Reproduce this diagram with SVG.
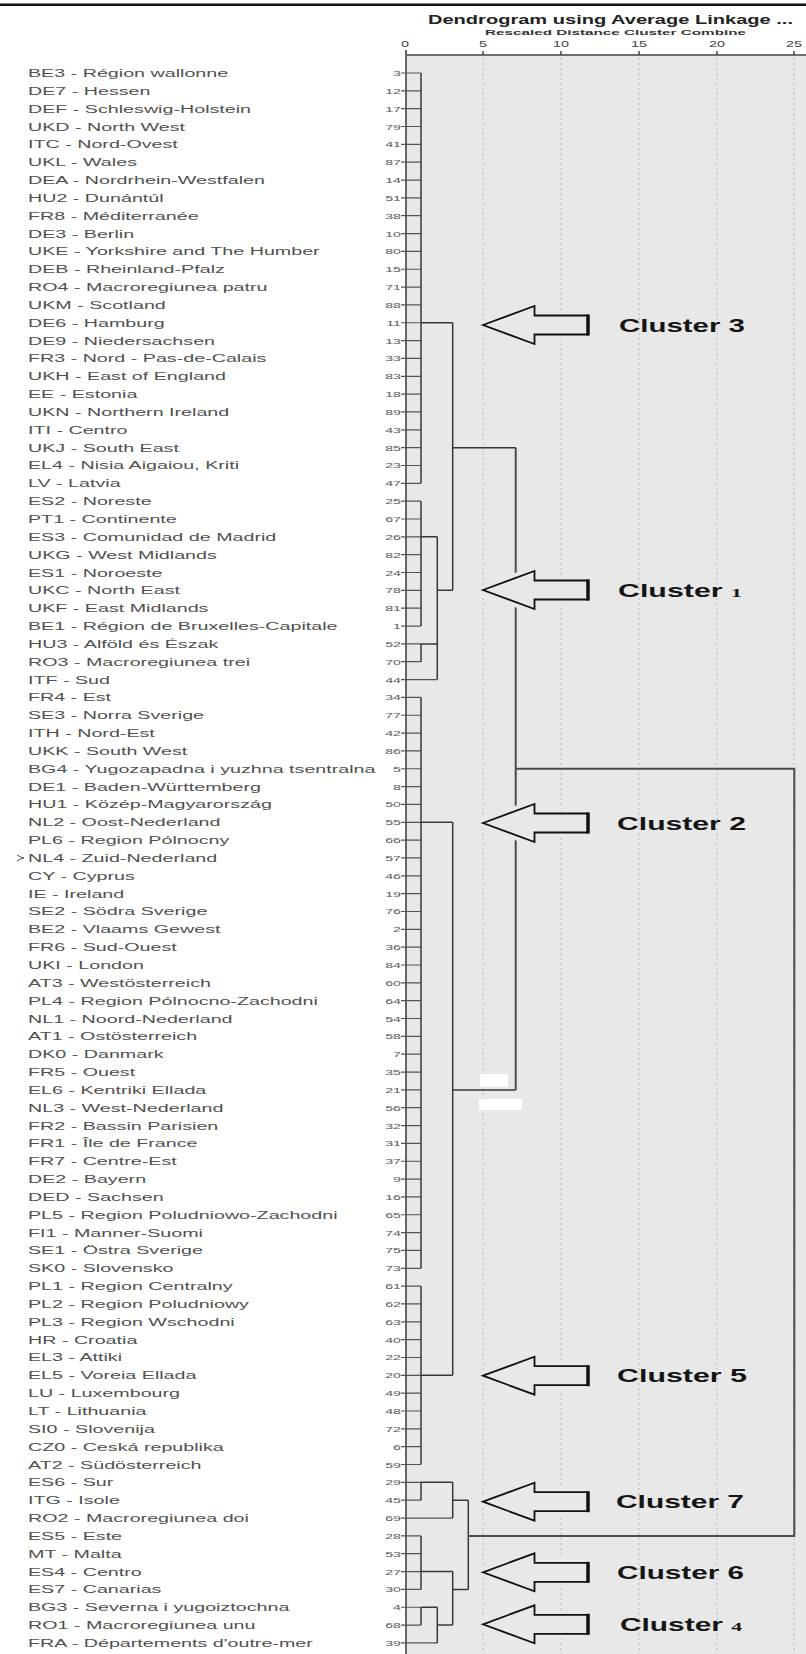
<svg xmlns="http://www.w3.org/2000/svg" xmlns:xlink="http://www.w3.org/1999/xlink" width="806" height="1654" viewBox="0 0 806 1654">
<style>
.lb{font-family:"Liberation Sans",Arial,sans-serif;font-size:11px;fill:#505050}
.nm{font-family:"Liberation Sans",Arial,sans-serif;font-size:8px;fill:#5a5a5a;text-anchor:end}
.tk{font-family:"Liberation Sans",Arial,sans-serif;font-size:9px;fill:#444;text-anchor:middle}
.cl{font-family:"Liberation Sans",Arial,sans-serif;font-size:18px;font-weight:bold;fill:#151515}
.sm{font-family:"Liberation Serif","Times New Roman",serif;font-size:13px;font-weight:bold}
.br{fill:none;stroke:#383838;stroke-width:1.5}
.bb{fill:none;stroke:#4a4a4a;stroke-width:2}
.lf{fill:none;stroke:#555;stroke-width:1.2}
.grid{stroke:#c2c2c2;stroke-width:1.3;stroke-dasharray:2 3}
.arr{fill:#e8e8e8;stroke:#111;stroke-width:1.8}
.halo{fill:#e8e8e8;stroke:#e8e8e8;stroke-width:10;stroke-linejoin:round}
</style>
<defs>
<polygon id="arrowShape" points="483,0 534.5,-19 534.5,-9.5 588,-9.5 588,9.5 534.5,9.5 534.5,19"/>
<path id="arrowEnd" d="M588,-10.5V10.5"/>
</defs>
<rect x="0" y="0" width="806" height="1654" fill="#fff"/>
<rect x="0" y="3.5" width="806" height="2.5" fill="#111"/>
<g id="chart-frame">
<rect x="405" y="55" width="401" height="1599" fill="#e8e8e8"/>
<path class="grid" d="M483,58V1654M561,58V1654M639,58V1654M717,58V1654M794,58V1654"/>
<path fill="none" stroke="#444" stroke-width="1.5" d="M405,55H806M483,51V55M561,51V55M639,51V55M717,51V55M794,51V55"/>
<path fill="none" stroke="#666" stroke-width="2" d="M406,50V1654"/>
<rect x="480" y="1074" width="28" height="13" fill="#fff"/>
<rect x="479" y="1099" width="43" height="11" fill="#fff"/>
</g>
<g id="header">
<text x="428" y="24" font-family="Liberation Sans,Arial,sans-serif" font-size="13" font-weight="bold" fill="#222" textLength="365" lengthAdjust="spacingAndGlyphs">Dendrogram using Average Linkage ...</text>
<text x="485" y="34.5" font-family="Liberation Sans,Arial,sans-serif" font-size="7.5" font-weight="bold" fill="#333" textLength="261" lengthAdjust="spacingAndGlyphs">Rescaled Distance Cluster Combine</text>
<text class="tk" transform="translate(405,47) scale(1.6,1)">0</text>
<text class="tk" transform="translate(483,47) scale(1.6,1)">5</text>
<text class="tk" transform="translate(561,47) scale(1.6,1)">10</text>
<text class="tk" transform="translate(639,47) scale(1.6,1)">15</text>
<text class="tk" transform="translate(717,47) scale(1.6,1)">20</text>
<text class="tk" transform="translate(794,47) scale(1.6,1)">25</text>
</g>
<g id="connectors">
<path class="lf" d="M401,73H421M401,90.84H421M401,108.68H421M401,126.52H421M401,144.36H421M401,162.2H421M401,180.04H421M401,197.88H421M401,215.72H421M401,233.56H421M401,251.4H421M401,269.24H421M401,287.08H421M401,304.92H421M401,322.76H421M401,340.6H421M401,358.44H421M401,376.28H421M401,394.12H421M401,411.96H421M401,429.8H421M401,447.64H421M401,465.48H421M401,483.32H421M401,501.16H421M401,519H421M401,536.84H421M401,554.68H421M401,572.52H421M401,590.36H421M401,608.2H421M401,626.04H421M401,643.88H421M401,661.72H421M401,679.56H437.3M401,697.4H421M401,715.24H421M401,733.08H421M401,750.92H421M401,768.76H421M401,786.6H421M401,804.44H421M401,822.28H421M401,840.12H421M401,857.96H421M401,875.8H421M401,893.64H421M401,911.48H421M401,929.32H421M401,947.16H421M401,965H421M401,982.84H421M401,1000.68H421M401,1018.52H421M401,1036.36H421M401,1054.2H421M401,1072.04H421M401,1089.88H421M401,1107.72H421M401,1125.56H421M401,1143.4H421M401,1161.24H421M401,1179.08H421M401,1196.92H421M401,1214.76H421M401,1232.6H421M401,1250.44H421M401,1268.28H421M401,1286.12H421M401,1303.96H421M401,1321.8H421M401,1339.64H421M401,1357.48H421M401,1375.32H421M401,1393.16H421M401,1411H421M401,1428.84H421M401,1446.68H421M401,1464.52H421M401,1482.36H421M401,1500.2H421M401,1518.04H452.7M401,1535.88H421M401,1553.72H421M401,1571.56H421M401,1589.4H421M401,1607.24H421M401,1625.08H421M401,1642.92H437.3"/>
<path class="br" d="M421,73V483.32M421,501.16V626.04M421,643.88V661.72M421,697.4V1268.28M421,1286.12V1464.52M421,1482.36V1500.2M421,1535.88V1589.4M421,1607.24V1625.08
M421,322.76H452.7M421,536.84H437.3M421,643.88H437.3M421,822.28H452.7M421,1375.32H452.7M421,1482.36H452.7M421,1571.56H452.7M421,1607.24H437.3
M437.3,536.84V679.56M437.3,1607.24V1642.92M437.3,590.36H452.7M437.3,1625.08H452.7
M452.7,322.76V590.36M452.7,822.28V1375.32M452.7,1482.36V1518.04M452.7,1571.56V1625.08
M452.7,447.64H515.7M452.7,1089.88H515.7M452.7,1500.2H468.3M452.7,1589.4H468.3
M468.3,1500.2V1589.4"/>
<path class="bb" d="M515.7,447.64V1089.88M515.7,768.76H794.3V1535.88H468.3"/>
</g>
<g id="leaves">
<g id="n-BE3" transform="translate(0,73)"><text class="lb" transform="translate(28,4) scale(1.79,1)">BE3 - Région wallonne</text><text class="nm" transform="translate(401,3) scale(1.78,1)">3</text></g>
<g id="n-DE7" transform="translate(0,90.84)"><text class="lb" transform="translate(28,4) scale(1.79,1)">DE7 - Hessen</text><text class="nm" transform="translate(401,3) scale(1.78,1)">12</text></g>
<g id="n-DEF" transform="translate(0,108.68)"><text class="lb" transform="translate(28,4) scale(1.79,1)">DEF - Schleswig-Holstein</text><text class="nm" transform="translate(401,3) scale(1.78,1)">17</text></g>
<g id="n-UKD" transform="translate(0,126.52)"><text class="lb" transform="translate(28,4) scale(1.79,1)">UKD - North West</text><text class="nm" transform="translate(401,3) scale(1.78,1)">79</text></g>
<g id="n-ITC" transform="translate(0,144.36)"><text class="lb" transform="translate(28,4) scale(1.79,1)">ITC - Nord-Ovest</text><text class="nm" transform="translate(401,3) scale(1.78,1)">41</text></g>
<g id="n-UKL" transform="translate(0,162.2)"><text class="lb" transform="translate(28,4) scale(1.79,1)">UKL - Wales</text><text class="nm" transform="translate(401,3) scale(1.78,1)">87</text></g>
<g id="n-DEA" transform="translate(0,180.04)"><text class="lb" transform="translate(28,4) scale(1.79,1)">DEA - Nordrhein-Westfalen</text><text class="nm" transform="translate(401,3) scale(1.78,1)">14</text></g>
<g id="n-HU2" transform="translate(0,197.88)"><text class="lb" transform="translate(28,4) scale(1.79,1)">HU2 - Dunántúl</text><text class="nm" transform="translate(401,3) scale(1.78,1)">51</text></g>
<g id="n-FR8" transform="translate(0,215.72)"><text class="lb" transform="translate(28,4) scale(1.79,1)">FR8 - Méditerranée</text><text class="nm" transform="translate(401,3) scale(1.78,1)">38</text></g>
<g id="n-DE3" transform="translate(0,233.56)"><text class="lb" transform="translate(28,4) scale(1.79,1)">DE3 - Berlin</text><text class="nm" transform="translate(401,3) scale(1.78,1)">10</text></g>
<g id="n-UKE" transform="translate(0,251.4)"><text class="lb" transform="translate(28,4) scale(1.79,1)">UKE - Yorkshire and The Humber</text><text class="nm" transform="translate(401,3) scale(1.78,1)">80</text></g>
<g id="n-DEB" transform="translate(0,269.24)"><text class="lb" transform="translate(28,4) scale(1.79,1)">DEB - Rheinland-Pfalz</text><text class="nm" transform="translate(401,3) scale(1.78,1)">15</text></g>
<g id="n-RO4" transform="translate(0,287.08)"><text class="lb" transform="translate(28,4) scale(1.79,1)">RO4 - Macroregiunea patru</text><text class="nm" transform="translate(401,3) scale(1.78,1)">71</text></g>
<g id="n-UKM" transform="translate(0,304.92)"><text class="lb" transform="translate(28,4) scale(1.79,1)">UKM - Scotland</text><text class="nm" transform="translate(401,3) scale(1.78,1)">88</text></g>
<g id="n-DE6" transform="translate(0,322.76)"><text class="lb" transform="translate(28,4) scale(1.79,1)">DE6 - Hamburg</text><text class="nm" transform="translate(401,3) scale(1.78,1)">11</text></g>
<g id="n-DE9" transform="translate(0,340.6)"><text class="lb" transform="translate(28,4) scale(1.79,1)">DE9 - Niedersachsen</text><text class="nm" transform="translate(401,3) scale(1.78,1)">13</text></g>
<g id="n-FR3" transform="translate(0,358.44)"><text class="lb" transform="translate(28,4) scale(1.79,1)">FR3 - Nord - Pas-de-Calais</text><text class="nm" transform="translate(401,3) scale(1.78,1)">33</text></g>
<g id="n-UKH" transform="translate(0,376.28)"><text class="lb" transform="translate(28,4) scale(1.79,1)">UKH - East of England</text><text class="nm" transform="translate(401,3) scale(1.78,1)">83</text></g>
<g id="n-EE" transform="translate(0,394.12)"><text class="lb" transform="translate(28,4) scale(1.79,1)">EE - Estonia</text><text class="nm" transform="translate(401,3) scale(1.78,1)">18</text></g>
<g id="n-UKN" transform="translate(0,411.96)"><text class="lb" transform="translate(28,4) scale(1.79,1)">UKN - Northern Ireland</text><text class="nm" transform="translate(401,3) scale(1.78,1)">89</text></g>
<g id="n-ITI" transform="translate(0,429.8)"><text class="lb" transform="translate(28,4) scale(1.79,1)">ITI - Centro</text><text class="nm" transform="translate(401,3) scale(1.78,1)">43</text></g>
<g id="n-UKJ" transform="translate(0,447.64)"><text class="lb" transform="translate(28,4) scale(1.79,1)">UKJ - South East</text><text class="nm" transform="translate(401,3) scale(1.78,1)">85</text></g>
<g id="n-EL4" transform="translate(0,465.48)"><text class="lb" transform="translate(28,4) scale(1.79,1)">EL4 - Nisia Aigaiou, Kriti</text><text class="nm" transform="translate(401,3) scale(1.78,1)">23</text></g>
<g id="n-LV" transform="translate(0,483.32)"><text class="lb" transform="translate(28,4) scale(1.79,1)">LV - Latvia</text><text class="nm" transform="translate(401,3) scale(1.78,1)">47</text></g>
<g id="n-ES2" transform="translate(0,501.16)"><text class="lb" transform="translate(28,4) scale(1.79,1)">ES2 - Noreste</text><text class="nm" transform="translate(401,3) scale(1.78,1)">25</text></g>
<g id="n-PT1" transform="translate(0,519)"><text class="lb" transform="translate(28,4) scale(1.79,1)">PT1 - Continente</text><text class="nm" transform="translate(401,3) scale(1.78,1)">67</text></g>
<g id="n-ES3" transform="translate(0,536.84)"><text class="lb" transform="translate(28,4) scale(1.79,1)">ES3 - Comunidad de Madrid</text><text class="nm" transform="translate(401,3) scale(1.78,1)">26</text></g>
<g id="n-UKG" transform="translate(0,554.68)"><text class="lb" transform="translate(28,4) scale(1.79,1)">UKG - West Midlands</text><text class="nm" transform="translate(401,3) scale(1.78,1)">82</text></g>
<g id="n-ES1" transform="translate(0,572.52)"><text class="lb" transform="translate(28,4) scale(1.79,1)">ES1 - Noroeste</text><text class="nm" transform="translate(401,3) scale(1.78,1)">24</text></g>
<g id="n-UKC" transform="translate(0,590.36)"><text class="lb" transform="translate(28,4) scale(1.79,1)">UKC - North East</text><text class="nm" transform="translate(401,3) scale(1.78,1)">78</text></g>
<g id="n-UKF" transform="translate(0,608.2)"><text class="lb" transform="translate(28,4) scale(1.79,1)">UKF - East Midlands</text><text class="nm" transform="translate(401,3) scale(1.78,1)">81</text></g>
<g id="n-BE1" transform="translate(0,626.04)"><text class="lb" transform="translate(28,4) scale(1.79,1)">BE1 - Région de Bruxelles-Capitale</text><text class="nm" transform="translate(401,3) scale(1.78,1)">1</text></g>
<g id="n-HU3" transform="translate(0,643.88)"><text class="lb" transform="translate(28,4) scale(1.79,1)">HU3 - Alföld és Észak</text><text class="nm" transform="translate(401,3) scale(1.78,1)">52</text></g>
<g id="n-RO3" transform="translate(0,661.72)"><text class="lb" transform="translate(28,4) scale(1.79,1)">RO3 - Macroregiunea trei</text><text class="nm" transform="translate(401,3) scale(1.78,1)">70</text></g>
<g id="n-ITF" transform="translate(0,679.56)"><text class="lb" transform="translate(28,4) scale(1.79,1)">ITF - Sud</text><text class="nm" transform="translate(401,3) scale(1.78,1)">44</text></g>
<g id="n-FR4" transform="translate(0,697.4)"><text class="lb" transform="translate(28,4) scale(1.79,1)">FR4 - Est</text><text class="nm" transform="translate(401,3) scale(1.78,1)">34</text></g>
<g id="n-SE3" transform="translate(0,715.24)"><text class="lb" transform="translate(28,4) scale(1.79,1)">SE3 - Norra Sverige</text><text class="nm" transform="translate(401,3) scale(1.78,1)">77</text></g>
<g id="n-ITH" transform="translate(0,733.08)"><text class="lb" transform="translate(28,4) scale(1.79,1)">ITH - Nord-Est</text><text class="nm" transform="translate(401,3) scale(1.78,1)">42</text></g>
<g id="n-UKK" transform="translate(0,750.92)"><text class="lb" transform="translate(28,4) scale(1.79,1)">UKK - South West</text><text class="nm" transform="translate(401,3) scale(1.78,1)">86</text></g>
<g id="n-BG4" transform="translate(0,768.76)"><text class="lb" transform="translate(28,4) scale(1.79,1)">BG4 - Yugozapadna i yuzhna tsentralna</text><text class="nm" transform="translate(401,3) scale(1.78,1)">5</text></g>
<g id="n-DE1" transform="translate(0,786.6)"><text class="lb" transform="translate(28,4) scale(1.79,1)">DE1 - Baden-Württemberg</text><text class="nm" transform="translate(401,3) scale(1.78,1)">8</text></g>
<g id="n-HU1" transform="translate(0,804.44)"><text class="lb" transform="translate(28,4) scale(1.79,1)">HU1 - Közép-Magyarország</text><text class="nm" transform="translate(401,3) scale(1.78,1)">50</text></g>
<g id="n-NL2" transform="translate(0,822.28)"><text class="lb" transform="translate(28,4) scale(1.79,1)">NL2 - Oost-Nederland</text><text class="nm" transform="translate(401,3) scale(1.78,1)">55</text></g>
<g id="n-PL6" transform="translate(0,840.12)"><text class="lb" transform="translate(28,4) scale(1.79,1)">PL6 - Region Pólnocny</text><text class="nm" transform="translate(401,3) scale(1.78,1)">66</text></g>
<g id="n-NL4" transform="translate(0,857.96)"><path d="M17,-3Q20.5,-0.5 24,0Q20.5,0.5 17,3" fill="none" stroke="#555" stroke-width="1"/><text class="lb" transform="translate(28,4) scale(1.79,1)">NL4 - Zuid-Nederland</text><text class="nm" transform="translate(401,3) scale(1.78,1)">57</text></g>
<g id="n-CY" transform="translate(0,875.8)"><text class="lb" transform="translate(28,4) scale(1.79,1)">CY - Cyprus</text><text class="nm" transform="translate(401,3) scale(1.78,1)">46</text></g>
<g id="n-IE" transform="translate(0,893.64)"><text class="lb" transform="translate(28,4) scale(1.79,1)">IE - Ireland</text><text class="nm" transform="translate(401,3) scale(1.78,1)">19</text></g>
<g id="n-SE2" transform="translate(0,911.48)"><text class="lb" transform="translate(28,4) scale(1.79,1)">SE2 - Södra Sverige</text><text class="nm" transform="translate(401,3) scale(1.78,1)">76</text></g>
<g id="n-BE2" transform="translate(0,929.32)"><text class="lb" transform="translate(28,4) scale(1.79,1)">BE2 - Vlaams Gewest</text><text class="nm" transform="translate(401,3) scale(1.78,1)">2</text></g>
<g id="n-FR6" transform="translate(0,947.16)"><text class="lb" transform="translate(28,4) scale(1.79,1)">FR6 - Sud-Ouest</text><text class="nm" transform="translate(401,3) scale(1.78,1)">36</text></g>
<g id="n-UKI" transform="translate(0,965)"><text class="lb" transform="translate(28,4) scale(1.79,1)">UKI - London</text><text class="nm" transform="translate(401,3) scale(1.78,1)">84</text></g>
<g id="n-AT3" transform="translate(0,982.84)"><text class="lb" transform="translate(28,4) scale(1.79,1)">AT3 - Westösterreich</text><text class="nm" transform="translate(401,3) scale(1.78,1)">60</text></g>
<g id="n-PL4" transform="translate(0,1000.68)"><text class="lb" transform="translate(28,4) scale(1.79,1)">PL4 - Region Pólnocno-Zachodni</text><text class="nm" transform="translate(401,3) scale(1.78,1)">64</text></g>
<g id="n-NL1" transform="translate(0,1018.52)"><text class="lb" transform="translate(28,4) scale(1.79,1)">NL1 - Noord-Nederland</text><text class="nm" transform="translate(401,3) scale(1.78,1)">54</text></g>
<g id="n-AT1" transform="translate(0,1036.36)"><text class="lb" transform="translate(28,4) scale(1.79,1)">AT1 - Ostösterreich</text><text class="nm" transform="translate(401,3) scale(1.78,1)">58</text></g>
<g id="n-DK0" transform="translate(0,1054.2)"><text class="lb" transform="translate(28,4) scale(1.79,1)">DK0 - Danmark</text><text class="nm" transform="translate(401,3) scale(1.78,1)">7</text></g>
<g id="n-FR5" transform="translate(0,1072.04)"><text class="lb" transform="translate(28,4) scale(1.79,1)">FR5 - Ouest</text><text class="nm" transform="translate(401,3) scale(1.78,1)">35</text></g>
<g id="n-EL6" transform="translate(0,1089.88)"><text class="lb" transform="translate(28,4) scale(1.79,1)">EL6 - Kentriki Ellada</text><text class="nm" transform="translate(401,3) scale(1.78,1)">21</text></g>
<g id="n-NL3" transform="translate(0,1107.72)"><text class="lb" transform="translate(28,4) scale(1.79,1)">NL3 - West-Nederland</text><text class="nm" transform="translate(401,3) scale(1.78,1)">56</text></g>
<g id="n-FR2" transform="translate(0,1125.56)"><text class="lb" transform="translate(28,4) scale(1.79,1)">FR2 - Bassin Parisien</text><text class="nm" transform="translate(401,3) scale(1.78,1)">32</text></g>
<g id="n-FR1" transform="translate(0,1143.4)"><text class="lb" transform="translate(28,4) scale(1.79,1)">FR1 - Île de France</text><text class="nm" transform="translate(401,3) scale(1.78,1)">31</text></g>
<g id="n-FR7" transform="translate(0,1161.24)"><text class="lb" transform="translate(28,4) scale(1.79,1)">FR7 - Centre-Est</text><text class="nm" transform="translate(401,3) scale(1.78,1)">37</text></g>
<g id="n-DE2" transform="translate(0,1179.08)"><text class="lb" transform="translate(28,4) scale(1.79,1)">DE2 - Bayern</text><text class="nm" transform="translate(401,3) scale(1.78,1)">9</text></g>
<g id="n-DED" transform="translate(0,1196.92)"><text class="lb" transform="translate(28,4) scale(1.79,1)">DED - Sachsen</text><text class="nm" transform="translate(401,3) scale(1.78,1)">16</text></g>
<g id="n-PL5" transform="translate(0,1214.76)"><text class="lb" transform="translate(28,4) scale(1.79,1)">PL5 - Region Poludniowo-Zachodni</text><text class="nm" transform="translate(401,3) scale(1.78,1)">65</text></g>
<g id="n-FI1" transform="translate(0,1232.6)"><text class="lb" transform="translate(28,4) scale(1.79,1)">FI1 - Manner-Suomi</text><text class="nm" transform="translate(401,3) scale(1.78,1)">74</text></g>
<g id="n-SE1" transform="translate(0,1250.44)"><text class="lb" transform="translate(28,4) scale(1.79,1)">SE1 - Östra Sverige</text><text class="nm" transform="translate(401,3) scale(1.78,1)">75</text></g>
<g id="n-SK0" transform="translate(0,1268.28)"><text class="lb" transform="translate(28,4) scale(1.79,1)">SK0 - Slovensko</text><text class="nm" transform="translate(401,3) scale(1.78,1)">73</text></g>
<g id="n-PL1" transform="translate(0,1286.12)"><text class="lb" transform="translate(28,4) scale(1.79,1)">PL1 - Region Centralny</text><text class="nm" transform="translate(401,3) scale(1.78,1)">61</text></g>
<g id="n-PL2" transform="translate(0,1303.96)"><text class="lb" transform="translate(28,4) scale(1.79,1)">PL2 - Region Poludniowy</text><text class="nm" transform="translate(401,3) scale(1.78,1)">62</text></g>
<g id="n-PL3" transform="translate(0,1321.8)"><text class="lb" transform="translate(28,4) scale(1.79,1)">PL3 - Region Wschodni</text><text class="nm" transform="translate(401,3) scale(1.78,1)">63</text></g>
<g id="n-HR" transform="translate(0,1339.64)"><text class="lb" transform="translate(28,4) scale(1.79,1)">HR - Croatia</text><text class="nm" transform="translate(401,3) scale(1.78,1)">40</text></g>
<g id="n-EL3" transform="translate(0,1357.48)"><text class="lb" transform="translate(28,4) scale(1.79,1)">EL3 - Attiki</text><text class="nm" transform="translate(401,3) scale(1.78,1)">22</text></g>
<g id="n-EL5" transform="translate(0,1375.32)"><text class="lb" transform="translate(28,4) scale(1.79,1)">EL5 - Voreia Ellada</text><text class="nm" transform="translate(401,3) scale(1.78,1)">20</text></g>
<g id="n-LU" transform="translate(0,1393.16)"><text class="lb" transform="translate(28,4) scale(1.79,1)">LU - Luxembourg</text><text class="nm" transform="translate(401,3) scale(1.78,1)">49</text></g>
<g id="n-LT" transform="translate(0,1411)"><text class="lb" transform="translate(28,4) scale(1.79,1)">LT - Lithuania</text><text class="nm" transform="translate(401,3) scale(1.78,1)">48</text></g>
<g id="n-SI0" transform="translate(0,1428.84)"><text class="lb" transform="translate(28,4) scale(1.79,1)">SI0 - Slovenija</text><text class="nm" transform="translate(401,3) scale(1.78,1)">72</text></g>
<g id="n-CZ0" transform="translate(0,1446.68)"><text class="lb" transform="translate(28,4) scale(1.79,1)">CZ0 - Ceská republika</text><text class="nm" transform="translate(401,3) scale(1.78,1)">6</text></g>
<g id="n-AT2" transform="translate(0,1464.52)"><text class="lb" transform="translate(28,4) scale(1.79,1)">AT2 - Südösterreich</text><text class="nm" transform="translate(401,3) scale(1.78,1)">59</text></g>
<g id="n-ES6" transform="translate(0,1482.36)"><text class="lb" transform="translate(28,4) scale(1.79,1)">ES6 - Sur</text><text class="nm" transform="translate(401,3) scale(1.78,1)">29</text></g>
<g id="n-ITG" transform="translate(0,1500.2)"><text class="lb" transform="translate(28,4) scale(1.79,1)">ITG - Isole</text><text class="nm" transform="translate(401,3) scale(1.78,1)">45</text></g>
<g id="n-RO2" transform="translate(0,1518.04)"><text class="lb" transform="translate(28,4) scale(1.79,1)">RO2 - Macroregiunea doi</text><text class="nm" transform="translate(401,3) scale(1.78,1)">69</text></g>
<g id="n-ES5" transform="translate(0,1535.88)"><text class="lb" transform="translate(28,4) scale(1.79,1)">ES5 - Este</text><text class="nm" transform="translate(401,3) scale(1.78,1)">28</text></g>
<g id="n-MT" transform="translate(0,1553.72)"><text class="lb" transform="translate(28,4) scale(1.79,1)">MT - Malta</text><text class="nm" transform="translate(401,3) scale(1.78,1)">53</text></g>
<g id="n-ES4" transform="translate(0,1571.56)"><text class="lb" transform="translate(28,4) scale(1.79,1)">ES4 - Centro</text><text class="nm" transform="translate(401,3) scale(1.78,1)">27</text></g>
<g id="n-ES7" transform="translate(0,1589.4)"><text class="lb" transform="translate(28,4) scale(1.79,1)">ES7 - Canarias</text><text class="nm" transform="translate(401,3) scale(1.78,1)">30</text></g>
<g id="n-BG3" transform="translate(0,1607.24)"><text class="lb" transform="translate(28,4) scale(1.79,1)">BG3 - Severna i yugoiztochna</text><text class="nm" transform="translate(401,3) scale(1.78,1)">4</text></g>
<g id="n-RO1" transform="translate(0,1625.08)"><text class="lb" transform="translate(28,4) scale(1.79,1)">RO1 - Macroregiunea unu</text><text class="nm" transform="translate(401,3) scale(1.78,1)">68</text></g>
<g id="n-FRA" transform="translate(0,1642.92)"><text class="lb" transform="translate(28,4) scale(1.79,1)">FRA - Départements d'outre-mer</text><text class="nm" transform="translate(401,3) scale(1.78,1)">39</text></g>
</g>
<g id="clusters">
<g id="cluster-3" transform="translate(0,325)"><use href="#arrowShape" class="halo"/><use href="#arrowShape" class="arr"/><use href="#arrowEnd" stroke="#111" stroke-width="3.5"/><text class="cl" x="619" y="6.5" textLength="126" lengthAdjust="spacingAndGlyphs">Cluster 3</text></g>
<g id="cluster-1" transform="translate(0,590)"><use href="#arrowShape" class="halo"/><use href="#arrowShape" class="arr"/><use href="#arrowEnd" stroke="#111" stroke-width="3.5"/><text class="cl" x="618" y="6.5" textLength="124" lengthAdjust="spacingAndGlyphs">Cluster <tspan class="sm">1</tspan></text></g>
<g id="cluster-2" transform="translate(0,823)"><use href="#arrowShape" class="halo"/><use href="#arrowShape" class="arr"/><use href="#arrowEnd" stroke="#111" stroke-width="3.5"/><text class="cl" x="617" y="6.5" textLength="129" lengthAdjust="spacingAndGlyphs">Cluster 2</text></g>
<g id="cluster-5" transform="translate(0,1375.7)"><use href="#arrowShape" class="halo"/><use href="#arrowShape" class="arr"/><use href="#arrowEnd" stroke="#111" stroke-width="3.5"/><text class="cl" x="617" y="6.5" textLength="130" lengthAdjust="spacingAndGlyphs">Cluster 5</text></g>
<g id="cluster-7" transform="translate(0,1501.7)"><use href="#arrowShape" class="halo"/><use href="#arrowShape" class="arr"/><use href="#arrowEnd" stroke="#111" stroke-width="3.5"/><text class="cl" x="616" y="6.5" textLength="128" lengthAdjust="spacingAndGlyphs">Cluster 7</text></g>
<g id="cluster-6" transform="translate(0,1572.3)"><use href="#arrowShape" class="halo"/><use href="#arrowShape" class="arr"/><use href="#arrowEnd" stroke="#111" stroke-width="3.5"/><text class="cl" x="617" y="6.5" textLength="127" lengthAdjust="spacingAndGlyphs">Cluster 6</text></g>
<g id="cluster-4" transform="translate(0,1624.3)"><use href="#arrowShape" class="halo"/><use href="#arrowShape" class="arr"/><use href="#arrowEnd" stroke="#111" stroke-width="3.5"/><text class="cl" x="620" y="6.5" textLength="122" lengthAdjust="spacingAndGlyphs">Cluster <tspan class="sm">4</tspan></text></g>
</g>
</svg>
